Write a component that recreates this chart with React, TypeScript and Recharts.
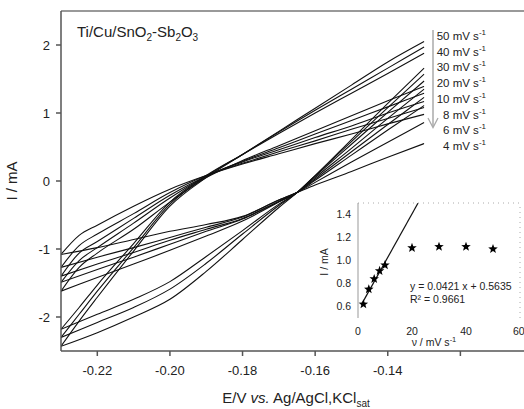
import { LineChart, Line, XAxis, YAxis, ReferenceLine, ComposedChart, Scatter } from 'recharts';

// potential grids (V) for the anodic (forward) and cathodic (reverse) sweeps
const E_FWD = [-0.23, -0.225, -0.22, -0.21, -0.2, -0.19, -0.18, -0.17, -0.16, -0.15, -0.14, -0.13];
const E_REV = [-0.13, -0.14, -0.15, -0.16, -0.165, -0.17, -0.18, -0.19, -0.2, -0.21, -0.22, -0.23];

const SCAN_RATES = ['50', '40', '30', '20', '10', '8', '6', '4'];

// current (mA) along each sweep
const I_FWD_50 = [-2.43, -2.06, -1.71, -1.03, -0.37, 0.05, 0.39, 0.73, 1.07, 1.41, 1.75, 2.05];
const I_FWD_40 = [-2.3, -1.96, -1.62, -0.98, -0.34, 0.07, 0.39, 0.72, 1.04, 1.35, 1.66, 1.97];
const I_FWD_30 = [-2.18, -1.86, -1.53, -0.92, -0.31, 0.08, 0.39, 0.7, 1.0, 1.29, 1.58, 1.88];
const I_FWD_20 = [-1.62, -1.27, -1.06, -0.71, -0.31, 0.05, 0.3, 0.52, 0.74, 0.96, 1.18, 1.39];
const I_FWD_10 = [-1.49, -1.17, -0.98, -0.62, -0.25, 0.07, 0.29, 0.49, 0.69, 0.89, 1.09, 1.29];
const I_FWD_8 = [-1.4, -1.06, -0.89, -0.55, -0.21, 0.07, 0.28, 0.46, 0.64, 0.81, 1.0, 1.17];
const I_FWD_6 = [-1.27, -0.95, -0.78, -0.48, -0.17, 0.08, 0.26, 0.43, 0.59, 0.76, 0.92, 1.08];
const I_FWD_4 = [-1.08, -0.8, -0.65, -0.37, -0.12, 0.08, 0.25, 0.4, 0.55, 0.69, 0.84, 0.98];

const I_REV_50 = [1.66, 1.14, 0.61, 0.08, -0.17, -0.39, -0.86, -1.33, -1.74, -2.0, -2.23, -2.43];
const I_REV_40 = [1.57, 1.08, 0.58, 0.08, -0.17, -0.36, -0.78, -1.21, -1.59, -1.86, -2.08, -2.3];
const I_REV_30 = [1.47, 1.01, 0.54, 0.07, -0.17, -0.34, -0.73, -1.11, -1.48, -1.74, -1.96, -2.18];
const I_REV_20 = [1.35, 0.92, 0.48, 0.05, -0.17, -0.31, -0.59, -0.81, -1.02, -1.22, -1.42, -1.62];
const I_REV_10 = [1.23, 0.83, 0.43, 0.03, -0.17, -0.3, -0.56, -0.74, -0.93, -1.12, -1.3, -1.49];
const I_REV_8 = [1.11, 0.75, 0.38, 0.01, -0.17, -0.3, -0.55, -0.71, -0.87, -1.05, -1.22, -1.4];
const I_REV_6 = [0.86, 0.57, 0.28, -0.02, -0.17, -0.28, -0.53, -0.68, -0.83, -0.98, -1.12, -1.27];
const I_REV_4 = [0.55, 0.35, 0.14, -0.06, -0.17, -0.28, -0.52, -0.64, -0.74, -0.86, -0.98, -1.08];

const E_TICKS = [-0.22, -0.2, -0.18, -0.16, -0.14, -0.12];
const I_TICKS = [-2, -1, 0, 1, 2];

// inset: peak current vs scan rate
const RATE_V = [2, 4, 6, 8, 10, 20, 30, 40, 50];
const PEAK_I = [0.62, 0.75, 0.84, 0.91, 0.96, 1.11, 1.12, 1.12, 1.1];
const FIT_V = [1.2, 22.2];
const FIT_I = [0.614, 1.498];
const INSET_V_TICKS = [0, 20, 40, 60];
const INSET_I_TICKS = [0.6, 0.8, 1.0, 1.2, 1.4];

const FWD = [I_FWD_50, I_FWD_40, I_FWD_30, I_FWD_20, I_FWD_10, I_FWD_8, I_FWD_6, I_FWD_4];
const REV = [I_REV_50, I_REV_40, I_REV_30, I_REV_20, I_REV_10, I_REV_8, I_REV_6, I_REV_4];

// each sweep drawn as its own branch, sorted by potential so it can be smoothed
const branches = SCAN_RATES.flatMap((rate, k) => [
  { key: `${rate}-f`, points: E_FWD.map((E, i) => ({ E, I: FWD[k][i] })) },
  { key: `${rate}-r`, points: E_REV.map((E, i) => ({ E, I: REV[k][i] })).reverse() },
]);

const peaks = RATE_V.map((v, i) => ({ v, I: PEAK_I[i] }));
const fit = FIT_V.map((v, i) => ({ v, I: FIT_I[i] }));

const FONT = "'Liberation Sans', Arial, Helvetica, sans-serif";
const AXIS = '#555';

function Star(props: any) {
  const { cx, cy } = props;
  const pts: string[] = [];
  for (let i = 0; i < 10; i++) {
    const r = i % 2 === 0 ? 5 : 2.1;
    const a = -Math.PI / 2 + (i * Math.PI) / 5;
    pts.push(`${cx + r * Math.cos(a)},${cy + r * Math.sin(a)}`);
  }
  return <polygon points={pts.join(' ')} fill="#000" />;
}

export default function App() {
  return (
    <div style={{ position: 'fixed', left: 0, top: 0, width: 524, height: 409, overflow: 'hidden', background: '#fff', fontFamily: FONT }}>
      <LineChart width={560} height={409} margin={{ top: 11, right: 27, bottom: 0, left: 0 }}>
        <XAxis
          type="number"
          dataKey="E"
          domain={[-0.23, -0.1]}
          allowDataOverflow
          ticks={E_TICKS}
          tickFormatter={(v: number) => (Math.abs(v + 0.12) < 1e-9 ? '' : v.toFixed(2))}
          height={58}
          stroke={AXIS}
          strokeWidth={1.5}
          tickSize={5}
          tickMargin={10}
          tick={{ fontSize: 13, fill: '#222' }}
        />
        <YAxis
          type="number"
          domain={[-2.5, 2.5]}
          allowDataOverflow
          ticks={I_TICKS}
          width={61}
          stroke={AXIS}
          strokeWidth={1.5}
          tickSize={5}
          tickMargin={6}
          tick={{ fontSize: 13, fill: '#222' }}
        />
        <ReferenceLine y={2.5} stroke="#777" strokeWidth={1.5} />
        {branches.map((b) => (
          <Line
            key={b.key}
            data={b.points}
            dataKey="I"
            type="monotone"
            stroke="#111"
            strokeWidth={1.1}
            dot={false}
            activeDot={false}
            isAnimationActive={false}
          />
        ))}
      </LineChart>

      <div style={{ position: 'absolute', left: 300, top: 190 }}>
        <ComposedChart width={224} height={160} margin={{ top: 13, right: 4, bottom: 0, left: 0 }}>
          <XAxis
            type="number"
            dataKey="v"
            domain={[0, 60]}
            ticks={INSET_V_TICKS}
            height={32}
            axisLine={false}
            tickLine={false}
            tickSize={0}
            tickMargin={10}
            tick={{ fontSize: 10.5, fill: '#222' }}
          />
          <YAxis
            type="number"
            dataKey="I"
            domain={[0.5, 1.5]}
            allowDataOverflow
            ticks={INSET_I_TICKS}
            tickFormatter={(v: number) => v.toFixed(1)}
            width={58}
            stroke="#999"
            tickLine={false}
            tickSize={0}
            tickMargin={7}
            tick={{ fontSize: 10.5, fill: '#222' }}
          />
          <ReferenceLine y={1.5} stroke="#aaa" strokeDasharray="1 4" />
          <ReferenceLine x={60} stroke="#aaa" strokeDasharray="1 4" />
          <Line data={fit} dataKey="I" type="linear" stroke="#111" strokeWidth={1.2} dot={false} activeDot={false} isAnimationActive={false} />
          <Scatter data={peaks} dataKey="I" shape={Star} isAnimationActive={false} />
        </ComposedChart>
      </div>

      <svg width={524} height={409} style={{ position: 'absolute', left: 0, top: 0, pointerEvents: 'none' }} fontFamily={FONT} fill="#222">
        <text x={77} y={37} fontSize={15}>
          Ti/Cu/SnO<tspan fontSize={10} dy={4}>2</tspan>
          <tspan dy={-4}>-Sb</tspan>
          <tspan fontSize={10} dy={4}>2</tspan>
          <tspan dy={-4}>O</tspan>
          <tspan fontSize={10} dy={4}>3</tspan>
        </text>

        {SCAN_RATES.map((r, i) => (
          <text key={r} x={486} y={40 + i * 15.7} fontSize={11.5} textAnchor="end">
            {r} mV s<tspan fontSize={8} dy={-5}>-1</tspan>
          </text>
        ))}
        <line x1={433} y1={30} x2={433} y2={127} stroke="#aaa" strokeWidth={1.5} />
        <polyline points="428,118 433,127.5 438,118" fill="none" stroke="#aaa" strokeWidth={1.3} />

        <text x={296} y={403} fontSize={15} textAnchor="middle">
          E/V <tspan fontStyle="italic">vs.</tspan> Ag/AgCl,KCl<tspan fontSize={10} dy={4}>sat</tspan>
        </text>
        <text transform="rotate(-90)" x={-181} y={17} fontSize={15} textAnchor="middle">I / mA</text>

        <text transform="rotate(-90)" x={-262} y={328} fontSize={10.5} textAnchor="middle">I / mA</text>
        <text x={434} y={346} fontSize={10.5} textAnchor="middle">
          ν / mV s<tspan fontSize={7.5} dy={-4}>-1</tspan>
        </text>
        <text x={410} y={290} fontSize={10.5}>y = 0.0421 x + 0.5635</text>
        <text x={410} y={302.5} fontSize={10.5}>R² = 0.9661</text>
      </svg>
    </div>
  );
}
